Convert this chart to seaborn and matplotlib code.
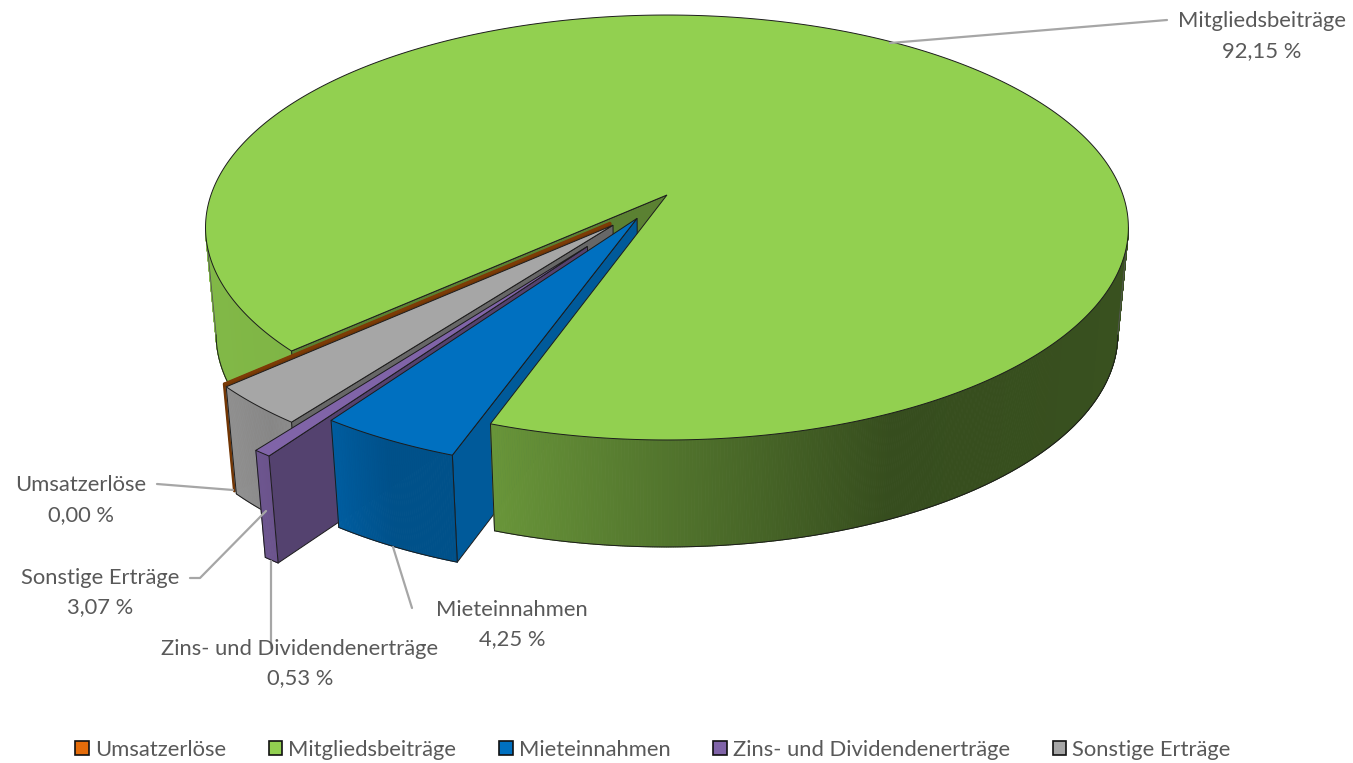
import numpy as np
import matplotlib
matplotlib.use("Agg")
import matplotlib.pyplot as plt
from matplotlib.patches import Patch, Polygon
import seaborn as sns

# ---- data
categories = ["Umsatzerlöse", "Mitgliedsbeiträge", "Mieteinnahmen",
              "Zins- und Dividendenerträge", "Sonstige Erträge"]
shares = [0.00, 92.15, 4.25, 0.53, 3.07]
colors = ["#E46C0A", "#92D050", "#0070C0", "#8064A8", "#A6A6A6"]
explode = [0.116, 0.064, 0.064, 0.228, 0.12]
radius = [0.99, 1.0, 0.998, 0.992, 0.99]
inner_shade = [0.52, 0.62, 0.80, 0.66, 0.62]

# ---- chart layout
FIRST_ANGLE = 47.6
CX, CY, A, B, K = 667.0, 195.0, 456.0, 207.5, 0.153
HUB = np.array([-0.0354, 0.0533])
DEPTH, TAPER = 107.0, 0.977
FRONT_LIMIT = np.degrees(np.arccos(K))
FS = 15.8
EDGE = "#1c1c1c"
TEXT = "#595959"
LEAD = "#A6A6A6"

sns.set_theme(style="white")
plt.rcParams["font.family"] = ["Lato", "DejaVu Sans"]
palette = sns.color_palette(colors)

fig = plt.figure(figsize=(13.53, 7.63), dpi=100)
ax = fig.add_axes([0, 0, 1, 1])
ax.set_xlim(0, 1353)
ax.set_ylim(763, 0)
ax.axis("off")


def disc(a):
    a = np.radians(a)
    return np.array([-np.sin(a), np.cos(a)])


def top(p):
    w = 1 - K * p[1]
    return np.array([CX + A * p[0] / w, CY + B * p[1] / w]).T


def low(xy):
    xy = np.atleast_2d(xy)
    return np.c_[CX + (xy[:, 0] - CX) * TAPER, xy[:, 1] + DEPTH]


def wrap(a):
    return (np.asarray(a) + 180) % 360 - 180


def shade(a):
    return np.interp(wrap(a), [-180, -90, -25, 0, 19.5, 27, 36, 40, 47, 60, 100, 180],
                     [.40, .40, .37, .56, .72, .72, .85, .82, .87, .88, .90, .90])


def tint(c, f):
    return tuple(np.clip(np.array(c) * f, 0, 1))


stops = FIRST_ANGLE + np.cumsum([0] + shares) * 3.6
slices = []
for i in range(len(shares)):
    a0, a1 = stops[i], stops[i + 1]
    mid = (a0 + a1) / 2
    apex = HUB + explode[i] * disc(mid)
    n = max(2, int((a1 - a0) * 4))
    ang = np.linspace(a0, a1, n)
    rim = top(apex[:, None] + radius[i] * disc(ang))
    slices.append(dict(apex=top(apex[:, None]).ravel(), ang=ang, rim=rim))


def outer(i, lo, hi, z):
    """Outer wall between two angles; only the part that faces the viewer."""
    s = slices[i]
    m = (s["ang"] >= lo - 1e-9) & (s["ang"] <= hi + 1e-9) & (np.abs(wrap(s["ang"])) <= FRONT_LIMIT)
    ang, rim = s["ang"][m], s["rim"][m]
    bot = low(rim)
    for j in range(len(ang) - 1):
        q = [rim[j], rim[j + 1], bot[j + 1], bot[j]]
        f = tint(palette[i], shade((ang[j] + ang[j + 1]) / 2))
        ax.add_patch(Polygon(q, closed=True, fc=f, ec=f, lw=0.7, zorder=z))
    ax.plot(bot[:, 0], bot[:, 1], color=EDGE, lw=0.7, zorder=z + .1)


def inner(i, end, z):
    s = slices[i]
    p = s["rim"][end]
    q = [s["apex"], p, low(p)[0], low(s["apex"])[0]]
    ax.add_patch(Polygon(q, closed=True, fc=tint(palette[i], inner_shade[i]),
                         ec=EDGE, lw=0.7, zorder=z))


def face(i, z):
    s = slices[i]
    ax.add_patch(Polygon(np.vstack([s["apex"], s["rim"]]), closed=True, fc=palette[i],
                         ec=EDGE, lw=0.7, zorder=z, joinstyle="miter"))


def side(i, end, z, color=EDGE, lw=0.7):
    p = slices[i]["rim"][end]
    b = low(p)[0]
    ax.plot([p[0], b[0]], [p[1], b[1]], color=color, lw=lw, zorder=z)


G, U, M, Z, S = 1, 0, 2, 3, 4
# rear: green inner face and the green outer wall left of the gap
inner(G, 0, 1)
outer(G, stops[1], 190, 1.2)
side(G, 0, 1.3)
# exploded slices, back to front
p = slices[U]["rim"][0]
b = low(p)[0]
ax.add_patch(Polygon([slices[U]["apex"], p, b, low(slices[U]["apex"])[0]], closed=True,
                     fc=tint(palette[U], .5), ec=tint(palette[U], .5), lw=1.2, zorder=2))
ax.plot([p[0], b[0]], [p[1], b[1]], color=tint(palette[U], .5), lw=2.2, zorder=2.05)

for order, i in enumerate([S, Z, M]):
    z = 3 + order
    inner(i, 0, z)
    outer(i, stops[i], stops[i + 1], z + .1)
    side(i, 0, z + .2)
    side(i, -1, z + .2)
# green wall in front of the gap
outer(G, 190, stops[2], 6.5)
side(G, -1, 6.7)
# silhouette of the drum
rimg = slices[G]["rim"]
for idx in (np.argmin(rimg[:, 0]), np.argmax(rimg[:, 0])):
    side(G, idx, 6.8, color="#555555", lw=0.6)
# top faces
face(G, 7)
s = slices[U]
ax.plot([s["apex"][0], s["rim"][0, 0]], [s["apex"][1], s["rim"][0, 1]],
        color=tint(palette[U], .55), lw=2.0, zorder=7.1, solid_capstyle="butt")
for order, i in enumerate([S, Z, M]):
    face(i, 7.2 + order / 10)

# ---- data labels
label_pos = {0: (81, 485, 515), 1: (1262, 21, 51), 2: (512, 610, 639),
             3: (300, 649, 678), 4: (100, 578, 607)}
for i, (x, y1, y2) in label_pos.items():
    ax.text(x, y1, categories[i], ha="center", va="center", fontsize=FS, color=TEXT, zorder=9)
    ax.text(x, y2, f"{shares[i]:.2f} %".replace(".", ","), ha="center", va="center",
            fontsize=FS, color=TEXT, zorder=9)

leaders = [([890, 1167], [43, 20]), ([157, 233], [484, 490]),
           ([190, 200, 266], [578, 578, 511]), ([271, 271], [648, 561]),
           ([412, 393], [608, 547])]
for lx, ly in leaders:
    ax.plot(lx, ly, color=LEAD, lw=1.6, zorder=8.5)

# ---- legend
handles = [Patch(facecolor=palette[i], edgecolor="#111111", lw=1.2, label=categories[i])
           for i in range(len(categories))]
ax.legend(handles=handles, ncol=5, loc="center", bbox_to_anchor=(0.4825, 0.0175), frameon=False,
          fontsize=FS, labelcolor=TEXT, handlelength=0.62, handleheight=0.62,
          handletextpad=0.27, columnspacing=1.95, borderpad=0, borderaxespad=0)

fig.savefig("out.png", dpi=100)
